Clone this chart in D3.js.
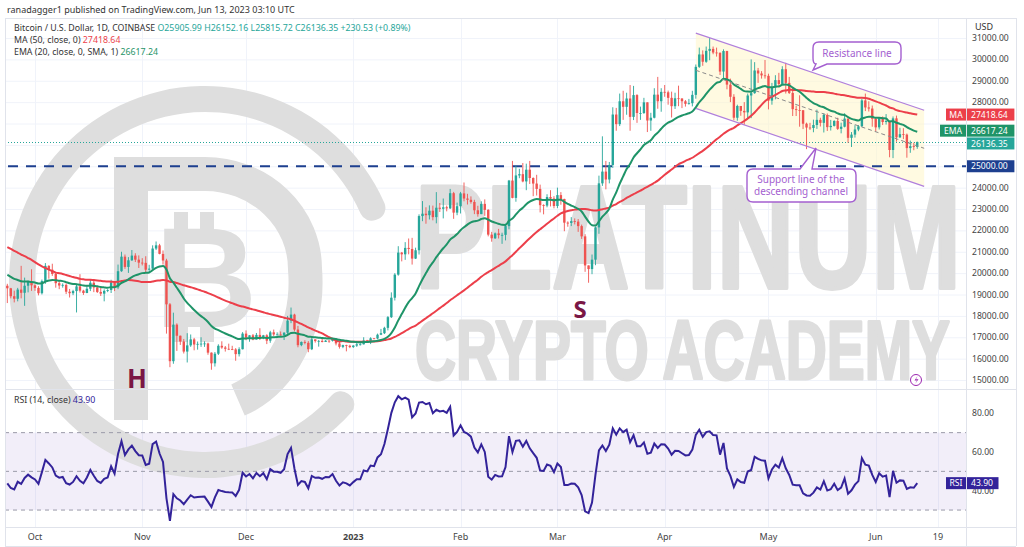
<!DOCTYPE html>
<html lang="en">
<head>
<meta charset="UTF-8">
<title>Bitcoin / U.S. Dollar, 1D</title>
<script src="https://d3js.org/d3.v7.min.js"></script>
<style>
  body { margin: 0; background: #fff; }
  svg text { font-family: "Noto Sans", "DejaVu Sans", sans-serif; }
</style>
</head>
<body>
<script>
// ---- data (daily BTC/USD, Coinbase) ----
const startDate = "2022-09-23"
const firstOpen = 19410

// Aug 4 - Sep 22 2022, only used as warm-up for MA / EMA / RSI
const priorCloses = [
  22600, 23300, 23270, 23170, 23800, 23150, 23950, 23930, 24400, 24440, 24300, 24100, 23860, 23340,
  23200, 20830, 21140, 21520, 21400, 21530, 21370, 21560, 20250, 20030, 19550, 20280, 19810, 20050,
  20130, 19950, 19830, 19990, 19800, 18790, 19290, 19320, 21360, 21650, 21830, 22400, 20180, 20240,
  19700, 19800, 20110, 19420, 19540, 18880, 18490, 19410
]

const closes = [
  // Sep 23-30
  19290, 18920, 18800, 19230, 19080, 19410, 19590, 19430,
  // Oct
  19310, 19060, 19630, 20340, 20160, 19960, 19530, 19420, 19450, 19130,
  19060, 19160, 19380, 19180, 19070, 19270, 19550, 19330, 19120, 19040,
  19170, 19210, 19570, 19330, 20090, 20770, 20290, 20600, 20820, 20630, 20490,
  // Nov
  20480, 20160, 20210, 21150, 21300, 20900, 20590, 18540, 15880, 17590,
  17070, 16800, 16330, 16620, 16900, 16660, 16690, 16700, 16710, 16280,
  15780, 16230, 16600, 16520, 16460, 16440, 16430, 16210, 16440, 17170,
  // Dec
  16980, 17090, 16890, 17110, 16970, 17090, 16840, 17230, 17130, 17130,
  17090, 17210, 17780, 18060, 17360, 16630, 16780, 16740, 16440, 16900,
  16820, 16830, 16780, 16840, 16830, 16920, 16710, 16550, 16630, 16600, 16540,
  // Jan
  16610, 16670, 16670, 16850, 16830, 16950, 16940, 17120, 17190, 17440,
  17940, 18850, 19930, 20960, 20880, 21180, 21130, 20680, 21070, 22670,
  22780, 22710, 22920, 22620, 23060, 23010, 23080, 23030, 23740, 22830, 23130,
  // Feb
  23730, 23490, 23430, 23330, 22940, 22760, 23240, 22960, 21800, 21630,
  21860, 21780, 21790, 22200, 24330, 23520, 24570, 24630, 24290, 24840,
  24450, 24190, 23940, 23180, 23160, 23560, 23490, 23140,
  // Mar
  23650, 23470, 22360, 22350, 22430, 22410, 22200, 21720, 20360, 20190,
  20630, 22140, 24200, 24750, 24380, 25060, 27420, 26970, 28040, 27780,
  28170, 27310, 28330, 27490, 27490, 27990, 27140, 27270, 28350, 28040, 28480,
  // Apr
  28460, 28200, 27810, 28180, 28170, 28040, 27920, 27950, 28340, 29650,
  30230, 29890, 30400, 30490, 30320, 30310, 29430, 30390, 28820, 28250,
  27270, 27820, 27590, 27520, 28310, 28420, 29480, 29340, 29250, 29230,
  // May
  28070, 28680, 29030, 28850, 29540, 28900, 28430, 27670, 27630, 27620,
  26990, 26810, 26790, 26930, 27170, 27030, 27400, 26830, 26890, 27120,
  26750, 26850, 27230, 26330, 26480, 26720, 26870, 28080, 27750, 27700, 27220,
  // Jun
  26820, 27250, 27070, 27120, 25760, 27240, 26350, 26500, 26480, 25850,
  25940, 25906, 26136.35
]

const highs = [
  19500, 19310, 19180, 19310, 20340, 19790, 19650, 20180,
  19480, 19390, 19700, 20470, 20370, 20440, 20050, 19620, 19520, 19520,
  19260, 19220, 19500, 19950, 19220, 19400, 19690, 19700, 19360, 19340,
  19240, 19250, 19690, 19600, 20400, 21000, 20870, 20750, 21080, 20930, 20830,
  20700, 20790, 20390, 21300, 21480, 21370, 21060, 20670, 18600, 18150,
  17650, 17080, 16920, 17190, 17130, 16970, 16800, 17000, 16810, 16750,
  16290, 16310, 16670, 16810, 16590, 16700, 16600, 16490, 16530, 17240,
  17320, 17100, 17150, 17200, 17420, 17110, 17140, 17300, 17360, 17230,
  17270, 17240, 18000, 18390, 18100, 17530, 16800, 16860, 16820, 17050,
  16900, 16870, 16950, 16870, 16860, 16940, 16960, 16780, 16650, 16650, 16650,
  16630, 16760, 16760, 17000, 16880, 17000, 16960, 17170, 17390, 17490,
  17990, 19100, 20000, 21260, 20990, 21450, 21620, 21650, 21190, 22750,
  23370, 23080, 23170, 23160, 23790, 23280, 23490, 23160, 23940, 23800, 23300,
  23800, 24240, 23710, 23590, 23430, 23150, 23360, 23450, 22990, 21930,
  21900, 22070, 21890, 22320, 24360, 25250, 25020, 24880, 25150, 25120,
  25250, 24480, 24600, 24140, 23220, 23690, 23880, 23600,
  24000, 23790, 23480, 22420, 22620, 22560, 22530, 22270, 21820, 20360,
  20870, 22180, 24560, 26400, 25250, 25200, 27760, 27730, 28400, 28530,
  28440, 28800, 28760, 28370, 27790, 28200, 27990, 27500, 28650, 29180, 28650,
  28800, 28540, 28490, 28440, 28770, 28180, 28100, 28150, 28530, 29760,
  30550, 30420, 30600, 31000, 30600, 30550, 30320, 30470, 30400, 29100,
  28370, 27880, 27820, 28000, 28400, 30000, 29870, 29600, 29450, 29970,
  29330, 28900, 29260, 29370, 29680, 29840, 29180, 28660, 27830, 28320,
  27630, 27040, 27030, 27180, 27650, 27270, 27480, 27470, 27170, 27150,
  27270, 27040, 27480, 27230, 26600, 26920, 26930, 28150, 28400, 28040, 27840,
  27300, 27300, 27330, 27440, 27140, 27330, 27370, 26800, 26780, 26530,
  26200, 26100, 26152.16
]

const lows = [
  18600, 18820, 18630, 18680, 18820, 18470, 19100, 19170,
  19170, 18960, 19000, 19500, 19740, 19870, 19320, 19250, 19320, 19020,
  18860, 18970, 18160, 19090, 18980, 19060, 19160, 19110, 19070, 18930,
  18680, 19110, 19070, 19160, 19250, 20060, 20200, 20010, 20570, 20520, 20240,
  20360, 20050, 20040, 20180, 21080, 20880, 20400, 17170, 15600, 15760,
  16360, 16640, 16240, 15820, 16550, 16390, 16420, 16550, 16550, 16180,
  15480, 15630, 16170, 16460, 16330, 16400, 16400, 15900, 16100, 16430,
  16860, 16790, 16860, 16890, 16870, 16910, 16680, 16740, 17060, 17090,
  17070, 16870, 17090, 17660, 17280, 16530, 16580, 16670, 16300, 16400,
  16750, 16560, 16760, 16790, 16740, 16800, 16620, 16470, 16490, 16340, 16490,
  16500, 16550, 16610, 16660, 16750, 16680, 16910, 16910, 17100, 17150,
  17320, 17900, 18720, 19880, 20550, 20620, 20880, 20400, 20660, 20870,
  22430, 22310, 22510, 22470, 22330, 22860, 22560, 22890, 23000, 22540, 22710,
  22790, 23360, 23210, 23250, 22760, 22640, 22760, 22680, 21720, 21470,
  21600, 21620, 21370, 21530, 22050, 23500, 23340, 24440, 24250, 23880,
  24170, 23600, 23630, 22840, 22750, 23080, 23120, 23030,
  23040, 23200, 21960, 22170, 22200, 22280, 21930, 21600, 20060, 19550,
  19950, 20370, 21840, 24080, 23920, 24200, 24920, 26660, 26880, 27170,
  27410, 26660, 27160, 27030, 27170, 27450, 26600, 26660, 27240, 27690, 27550,
  28250, 27880, 27280, 27680, 27810, 27720, 27790, 27880, 27800, 28160,
  29600, 29700, 29840, 29960, 30240, 30130, 29270, 29130, 28600, 28000,
  27150, 27130, 27360, 26940, 27200, 27250, 28390, 28900, 29100, 29100,
  27660, 27880, 28130, 28680, 28800, 28400, 28380, 27350, 27350, 26850,
  26740, 25800, 26700, 26590, 26750, 26860, 26580, 26650, 26670, 26860,
  26700, 26540, 26820, 26100, 25900, 26340, 26640, 26840, 27580, 27560, 26850,
  26620, 26720, 26930, 26950, 25420, 25380, 26150, 26330, 26270, 25400,
  25630, 25750, 25815.72
]

const priceTicks = [15000, 16000, 17000, 18000, 19000, 20000, 21000, 22000, 23000,
  24000, 25000, 26000, 27000, 28000, 29000, 30000, 31000]
const rsiTicks = [40, 60, 80]
const rsiLevels = [70, 50, 30]
const timeTickDates = ["2022-10-01", "2022-11-01", "2022-12-01", "2023-01-01", "2023-02-01",
  "2023-03-01", "2023-04-01", "2023-05-01", "2023-06-01", "2023-06-19"]
const timeTickLabels = ["Oct", "Nov", "Dec", "2023", "Feb", "Mar", "Apr", "May", "Jun", "19"]

// descending channel drawn on the chart
const channelDates = ["2023-04-10", "2023-06-15"]
const channelUpper = [31230, 27620]
const channelMid = [29490, 25840]
const channelLower = [27710, 24060]
const supportLevel = 25000

// last values as printed in the legend / price scale
const lastMA = 27418.64
const lastEMA = 26617.24
const lastClose = 26136.35
const lastRSI = 43.90

// ---- layout ----
const W = 1024, H = 547
const plotL = 5, plotR = 966, priceTop = 18, priceBot = 389, rsiBot = 527, axisBot = 546

const parseDate = d3.utcParse("%Y-%m-%d")
const day0 = parseDate(startDate)

const bars = closes.map((c, i) => {
  const o = i === 0 ? firstOpen : closes[i - 1]
  return {
    date: d3.utcDay.offset(day0, i),
    open: o, close: c,
    high: Math.max(highs[i], o, c),
    low: Math.min(lows[i], o, c)
  }
})

// indicators, computed from the closes
const all = priorCloses.concat(closes)
const off = priorCloses.length
const ma50 = closes.map((c, i) => d3.mean(all.slice(i + off - 49, i + off + 1)))

const emaAll = []
const k = 2 / 21
all.forEach((c, i) => {
  if (i < 19) emaAll.push(null)
  else if (i === 19) emaAll.push(d3.mean(all.slice(0, 20)))
  else emaAll.push(c * k + emaAll[i - 1] * (1 - k))
})
const ema20 = closes.map((c, i) => emaAll[i + off])

const rsiAll = []
let avgUp = 0, avgDn = 0
all.forEach((c, i) => {
  if (i === 0) { rsiAll.push(null); return }
  const ch = c - all[i - 1]
  const up = Math.max(ch, 0), dn = Math.max(-ch, 0)
  if (i <= 14) {
    avgUp += up / 14; avgDn += dn / 14
    rsiAll.push(i === 14 ? 100 - 100 / (1 + avgUp / avgDn) : null)
  } else {
    avgUp = (avgUp * 13 + up) / 14
    avgDn = (avgDn * 13 + dn) / 14
    rsiAll.push(100 - 100 / (1 + avgUp / avgDn))
  }
})
const rsi14 = closes.map((c, i) => rsiAll[i + off])

// ---- scales ----
const x = d3.scaleUtc()
  .domain([parseDate("2022-10-01"), parseDate("2023-06-19")])
  .range([35, 938])
const y = d3.scaleLinear().domain([15000, 31000]).range([380, 38])
const yR = d3.scaleLinear().domain([40, 80]).range([490.7, 413.3])

const green = "#26a69a", red = "#ef5350"
const emaColor = "#1f9468", maColor = "#ec3f4a"
const wmColor = "#dedede"

const svg = d3.select("body").append("svg")
  .attr("width", W).attr("height", H)
  .style("display", "block")

svg.append("rect").attr("width", W).attr("height", H).attr("fill", "#fff")

const defs = svg.append("defs")
defs.append("clipPath").attr("id", "clipPrice")
  .append("rect").attr("x", plotL).attr("y", priceTop)
  .attr("width", plotR - plotL).attr("height", priceBot - priceTop)
defs.append("clipPath").attr("id", "clipAll")
  .append("rect").attr("x", plotL).attr("y", priceTop)
  .attr("width", plotR - plotL).attr("height", rsiBot - priceTop)

// grid
const grid = svg.append("g").attr("stroke", "#f0f3fa").attr("stroke-width", 1)
grid.selectAll(".hg").data(priceTicks).join("line")
  .attr("x1", plotL).attr("x2", plotR)
  .attr("y1", d => y(d) + 0.5).attr("y2", d => y(d) + 0.5)
grid.selectAll(".vg").data(timeTickDates).join("line")
  .attr("x1", d => Math.round(x(parseDate(d))) + 0.5)
  .attr("x2", d => Math.round(x(parseDate(d))) + 0.5)
  .attr("y1", priceTop).attr("y2", rsiBot)

// RSI band
svg.append("rect")
  .attr("x", plotL).attr("width", plotR - plotL)
  .attr("y", yR(70)).attr("height", yR(30) - yR(70))
  .attr("fill", "#7e57c2").attr("fill-opacity", 0.1)

// watermark logo (clipped to the panes)
const wm = svg.append("g").attr("clip-path", "url(#clipAll)").attr("fill", wmColor)
const deg = Math.PI / 180
wm.append("path")
  .attr("transform", "translate(205,282)")
  .attr("d", d3.arc().innerRadius(170).outerRadius(196).cornerRadius(12)
    .startAngle(128 * deg).endAngle(430 * deg)())
wm.append("path")
  .attr("d", "M131,420 V174 H205 A100,95 0 0 1 305,269 A100,125 0 0 1 238,400")
  .attr("fill", "none").attr("stroke", wmColor).attr("stroke-width", 34)
wm.append("text").attr("x", 206).attr("y", 327)
  .attr("text-anchor", "middle").attr("font-size", 142).attr("font-weight", "bold")
  .style("font-family", "Liberation Sans, Arial, sans-serif").text("B")
wm.selectAll(".bbar").data([[174, 212], [200, 212], [174, 322], [200, 322]]).join("rect")
  .attr("x", d => d[0]).attr("y", d => d[1]).attr("width", 14).attr("height", 20)

// watermark words
const wmText = svg.append("g").attr("fill", wmColor)
wmText.append("text").attr("x", 415).attr("y", 288)
  .attr("textLength", 546).attr("lengthAdjust", "spacingAndGlyphs")
  .attr("font-size", 146).attr("font-weight", "bold")
  .attr("stroke", wmColor).attr("stroke-width", 4).attr("stroke-linejoin", "round")
  .style("font-family", "Liberation Sans Narrow, Liberation Sans, sans-serif")
  .text("PLATINUM")
wmText.append("text").attr("x", 415).attr("y", 379)
  .attr("textLength", 535).attr("lengthAdjust", "spacingAndGlyphs")
  .attr("font-size", 84).attr("font-weight", "bold")
  .attr("stroke", wmColor).attr("stroke-width", 3).attr("stroke-linejoin", "round")
  .style("font-family", "Liberation Sans Narrow, Liberation Sans, sans-serif")
  .text("CRYPTO ACADEMY")

// channel fill
const cd = channelDates.map(parseDate)
svg.append("path")
  .attr("d", d3.line()([
    [x(cd[0]), y(channelUpper[0])], [x(cd[1]), y(channelUpper[1])],
    [x(cd[1]), y(channelLower[1])], [x(cd[0]), y(channelLower[0])]
  ]) + "Z")
  .attr("fill", "#fff6c8").attr("fill-opacity", 0.55)

// support 25000 and last price line
svg.append("line")
  .attr("x1", plotL + 3).attr("x2", plotR)
  .attr("y1", y(supportLevel)).attr("y2", y(supportLevel))
  .attr("stroke", "#1d3f8f").attr("stroke-width", 2.2).attr("stroke-dasharray", "10,8")
svg.append("line")
  .attr("x1", plotL).attr("x2", plotR)
  .attr("y1", Math.round(y(lastClose)) + 0.5).attr("y2", Math.round(y(lastClose)) + 0.5)
  .attr("stroke", green).attr("stroke-width", 1).attr("stroke-dasharray", "1,2")

// candles
const cg = svg.append("g").attr("clip-path", "url(#clipPrice)")
const bodyW = 2.4
cg.selectAll(".wick").data(bars).join("line")
  .attr("x1", d => x(d.date)).attr("x2", d => x(d.date))
  .attr("y1", d => y(d.high)).attr("y2", d => y(d.low))
  .attr("stroke", d => d.close >= d.open ? green : red).attr("stroke-width", 0.9)
cg.selectAll(".body").data(bars).join("rect")
  .attr("x", d => x(d.date) - bodyW / 2).attr("width", bodyW)
  .attr("y", d => y(Math.max(d.open, d.close)))
  .attr("height", d => Math.max(0.8, Math.abs(y(d.open) - y(d.close))))
  .attr("fill", d => d.close >= d.open ? green : red)

// MA and EMA
const maLine = d3.line().x((d, i) => x(bars[i].date)).y(d => y(d)).curve(d3.curveMonotoneX)
cg.append("path").attr("d", maLine(ma50))
  .attr("fill", "none").attr("stroke", maColor).attr("stroke-width", 2)
cg.append("path").attr("d", maLine(ema20))
  .attr("fill", "none").attr("stroke", emaColor).attr("stroke-width", 2)

// channel lines
const chLine = (vals) => d3.line()([[x(cd[0]), y(vals[0])], [x(cd[1]), y(vals[1])]])
svg.append("path").attr("d", chLine(channelUpper)).attr("stroke", "#b07fdc").attr("stroke-width", 1.2)
svg.append("path").attr("d", chLine(channelLower)).attr("stroke", "#b07fdc").attr("stroke-width", 1.2)
svg.append("path").attr("d", chLine(channelMid)).attr("stroke", "#8a8a8a")
  .attr("stroke-width", 1).attr("stroke-dasharray", "4,3")

// callouts
const calloutColor = "#a45fd0"
svg.append("path")
  .attr("d", "M819,42 H895 Q901,42 901,48 V58 Q901,64 895,64 H827 L813,70 L816,64 Q813,64 813,58 V48 Q813,42 819,42 Z")
  .attr("fill", "#fff").attr("stroke", calloutColor).attr("stroke-width", 1.4)
svg.append("text").attr("x", 857).attr("y", 57).attr("text-anchor", "middle")
  .attr("font-size", 10).attr("fill", calloutColor).text("Resistance line")
svg.append("path")
  .attr("d", "M753,169 H800 L816,148 L812,169 H850 Q856,169 856,175 V196 Q856,202 850,202 H753 Q747,202 747,196 V175 Q747,169 753,169 Z")
  .attr("fill", "#fff").attr("stroke", calloutColor).attr("stroke-width", 1.4)
svg.append("text").attr("x", 801).attr("y", 183).attr("text-anchor", "middle")
  .attr("font-size", 10).attr("fill", calloutColor).text("Support line of the")
svg.append("text").attr("x", 801).attr("y", 195).attr("text-anchor", "middle")
  .attr("font-size", 10).attr("fill", calloutColor).text("descending channel")

// pattern labels
svg.append("text").attr("x", 137).attr("y", 388).attr("text-anchor", "middle")
  .attr("font-size", 26).attr("font-weight", "bold").attr("fill", "#7a1745").text("H")
svg.append("text").attr("x", 580).attr("y", 318).attr("text-anchor", "middle")
  .attr("font-size", 24).attr("font-weight", "bold").attr("fill", "#7a1745").text("S")

// lightning icon
svg.append("circle").attr("cx", 916).attr("cy", 380).attr("r", 5.5)
  .attr("fill", "#fff").attr("stroke", "#9c27b0").attr("stroke-width", 1)
svg.append("path").attr("d", "M917.5,376 L914.5,380.5 H917 L915,384 L918.5,379.3 H916 Z")
  .attr("fill", "#9c27b0")

// RSI panel
svg.selectAll(".lvl").data(rsiLevels).join("line")
  .attr("x1", plotL).attr("x2", plotR)
  .attr("y1", d => yR(d)).attr("y2", d => yR(d))
  .attr("stroke", "#9a9aa8").attr("stroke-width", 1).attr("stroke-dasharray", "4,4")
svg.append("path")
  .attr("d", d3.line().x((d, i) => x(bars[i].date)).y(d => yR(d))(rsi14))
  .attr("fill", "none").attr("stroke", "#33239a").attr("stroke-width", 2)

// separators / frame
const frame = svg.append("g").attr("stroke", "#e0e3eb").attr("stroke-width", 1)
frame.append("line").attr("x1", plotL).attr("x2", 1016).attr("y1", priceTop + 0.5).attr("y2", priceTop + 0.5)
frame.append("line").attr("x1", plotL).attr("x2", 1016).attr("y1", priceBot + 0.5).attr("y2", priceBot + 0.5)
frame.append("line").attr("x1", plotL).attr("x2", 1016).attr("y1", rsiBot + 0.5).attr("y2", rsiBot + 0.5)
frame.append("line").attr("x1", plotL).attr("x2", 1016).attr("y1", axisBot + 0.5).attr("y2", axisBot + 0.5)
frame.append("line").attr("x1", plotL + 0.5).attr("x2", plotL + 0.5).attr("y1", priceTop).attr("y2", axisBot)
frame.append("line").attr("x1", plotR + 0.5).attr("x2", plotR + 0.5).attr("y1", priceTop).attr("y2", axisBot)
frame.append("line").attr("x1", 1016.5).attr("x2", 1016.5).attr("y1", priceTop).attr("y2", axisBot)

// price scale tags (positions), axis labels hidden under them
const tagList = [
  { y: y(lastMA), color: maColor, text: d3.format(".2f")(lastMA), label: "MA", lx: 946 },
  { y: y(lastEMA) - 1, color: emaColor, text: d3.format(".2f")(lastEMA), label: "EMA", lx: 940 },
  { y: y(lastClose) + 1.5, color: green, text: d3.format(".2f")(lastClose) },
  { y: y(supportLevel), color: "#1d3f8f", text: d3.format(".2f")(supportLevel) }
]
const rsiTag = { y: yR(lastRSI), color: "#33239a", text: d3.format(".2f")(lastRSI), label: "RSI", lx: 946 }

// price axis labels
svg.append("text").attr("x", 975).attr("y", 30).attr("font-size", 9)
  .attr("fill", "#333").text("USD")
svg.selectAll(".pl")
  .data(priceTicks.filter(t => tagList.every(g => Math.abs(y(t) - g.y) > 8)))
  .join("text")
  .attr("x", 972).attr("y", d => y(d) + 3).attr("font-size", 8.6).attr("fill", "#444")
  .text(d => d3.format(".2f")(d))
svg.selectAll(".rl").data(rsiTicks).join("text")
  .attr("x", 972).attr("y", d => yR(d) + 3).attr("font-size", 8.6).attr("fill", "#444")
  .text(d => d3.format(".2f")(d))

// time axis labels
svg.selectAll(".tl").data(timeTickDates).join("text")
  .attr("x", d => x(parseDate(d))).attr("y", 540).attr("text-anchor", "middle")
  .attr("font-size", 9).attr("fill", "#444")
  .attr("font-weight", (d, i) => timeTickLabels[i] === "2023" ? "bold" : "normal")
  .text((d, i) => timeTickLabels[i])

function tag(t) {
  const g = svg.append("g")
  if (t.label) {
    g.append("rect").attr("x", t.lx).attr("y", t.y - 6).attr("width", 966 - t.lx).attr("height", 12)
      .attr("fill", t.color)
    g.append("text").attr("x", (t.lx + 966) / 2).attr("y", t.y + 3.2).attr("text-anchor", "middle")
      .attr("font-size", 8.6).attr("fill", "#fff").text(t.label)
  }
  g.append("rect").attr("x", 967).attr("y", t.y - 6).attr("width", t.text.length * 5.3 + 5).attr("height", 12)
    .attr("fill", t.color)
  g.append("text").attr("x", 971).attr("y", t.y + 3.2).attr("font-size", 8.6).attr("fill", "#fff").text(t.text)
}
tagList.forEach(tag)
tag(rsiTag)

// header + legends
svg.append("text").attr("x", 7).attr("y", 13).attr("font-size", 9).attr("fill", "#333")
  .text("ranadagger1 published on TradingView.com, Jun 13, 2023 03:10 UTC")
const leg1 = svg.append("text").attr("x", 14).attr("y", 31).attr("font-size", 8.8).attr("fill", "#333")
leg1.append("tspan").text("Bitcoin / U.S. Dollar, 1D, COINBASE  ")
leg1.append("tspan").attr("fill", green)
  .text("O25905.99  H26152.16  L25815.72  C26136.35  +230.53 (+0.89%)")
const leg2 = svg.append("text").attr("x", 14).attr("y", 43).attr("font-size", 8.8).attr("fill", "#333")
leg2.append("tspan").text("MA (50, close, 0)  ")
leg2.append("tspan").attr("fill", maColor).text(d3.format(".2f")(lastMA))
const leg3 = svg.append("text").attr("x", 14).attr("y", 55).attr("font-size", 8.8).attr("fill", "#333")
leg3.append("tspan").text("EMA (20, close, 0, SMA, 1)  ")
leg3.append("tspan").attr("fill", emaColor).text(d3.format(".2f")(lastEMA))
const leg4 = svg.append("text").attr("x", 14).attr("y", 403).attr("font-size", 8.8).attr("fill", "#333")
leg4.append("tspan").text("RSI (14, close)  ")
leg4.append("tspan").attr("fill", "#33239a").text(d3.format(".2f")(lastRSI))
</script>
</body>
</html>
